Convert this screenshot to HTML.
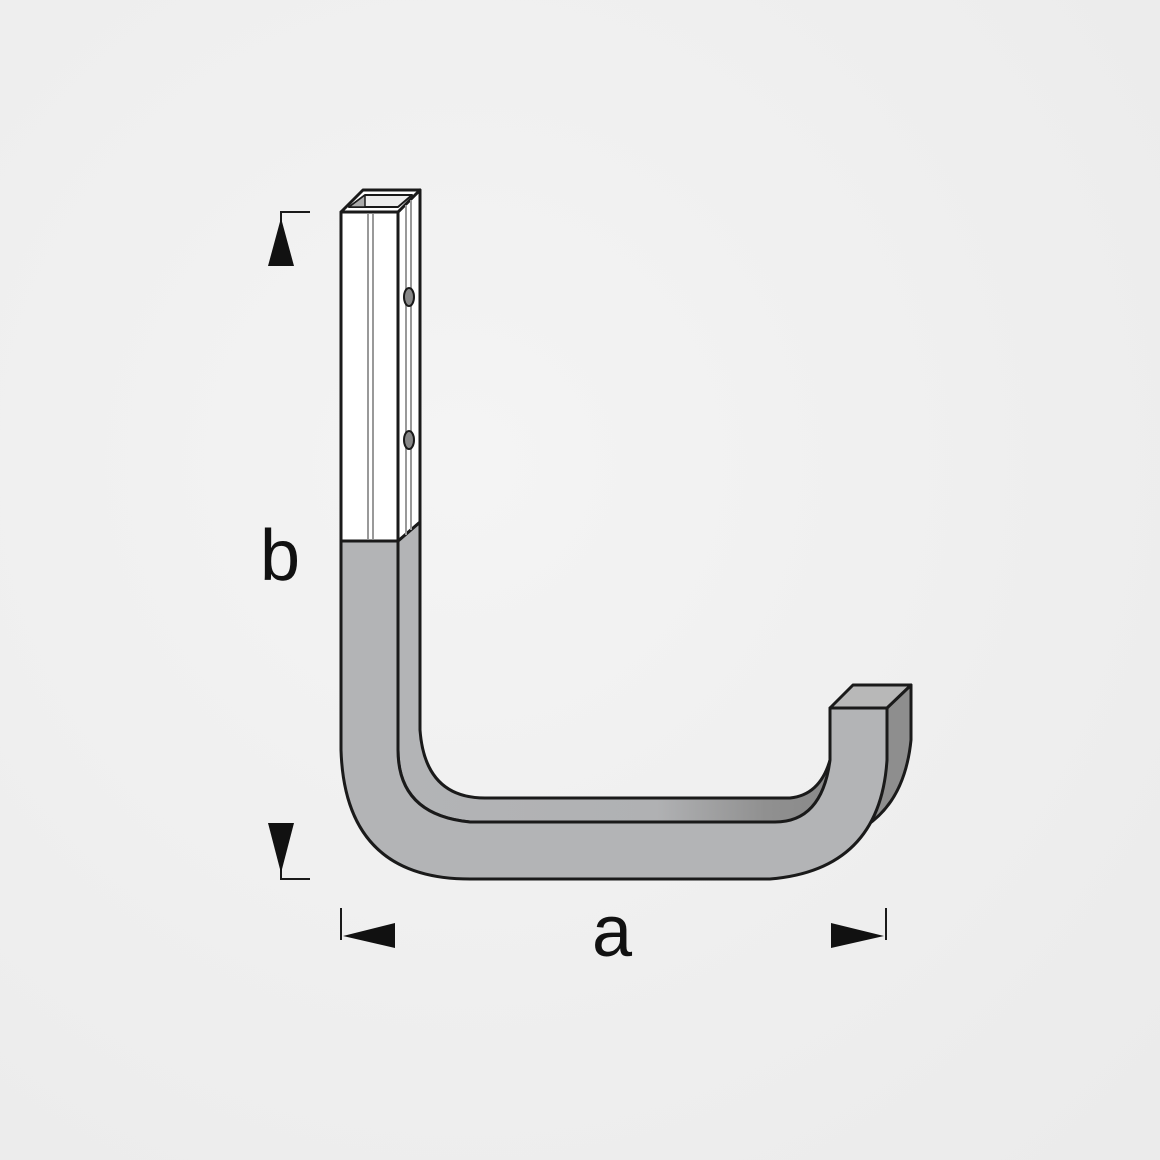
<!DOCTYPE html>
<html><head><style>body{margin:0;background:#efefef}svg{display:block}</style></head><body>
<svg width="1160" height="1160" viewBox="0 0 1160 1160" xmlns="http://www.w3.org/2000/svg">
<defs>
<radialGradient id="bg" cx="0.4" cy="0.4" r="0.8"><stop offset="0" stop-color="#f4f4f4"/><stop offset="1" stop-color="#ebebeb"/></radialGradient>
<linearGradient id="sf" x1="0" y1="0" x2="1" y2="0"><stop offset="0" stop-color="#b3b4b6"/><stop offset="0.6" stop-color="#b0b1b3"/><stop offset="0.85" stop-color="#909090"/><stop offset="1" stop-color="#8a8a8a"/></linearGradient>
</defs>
<rect width="1160" height="1160" fill="url(#bg)"/>
<g stroke="#1a1a1a" stroke-width="3" stroke-linejoin="round">
<path d="M887,708 L911,685 L911,740 Q905,800 866,826 L850,840 Q870,800 887,760 Z" fill="#8e8e8e"/>
<path d="M420,522 L420,730 Q425,798 485,798 L790,798 Q820,795 830,760 L830,790 Q820,822 780,822 L470,822 Q398,815 398,750 L398,541 Z" fill="url(#sf)"/>
<path d="M341,541 L341,750 Q345,879 470,879 L770,879 Q880,870 887,760 L887,708 L830,708 L830,760 Q822,822 775,822 L470,822 Q398,815 398,750 L398,541 Z" fill="#b3b4b6"/>
<path d="M830,708 L853,685 L911,685 L887,708 Z" fill="#b8b8b8"/>
<path d="M341,212 L398,212 L398,541 L341,541 Z" fill="#fff"/>
<path d="M398,212 L420,190 L420,522 L398,541 Z" fill="#fff"/>
<path d="M341,212 L363,190 L420,190 L398,212 Z" fill="#fff"/>
<path d="M349,207 L365,195 L412,195 L398,207 Z" fill="#eee" stroke-width="2"/>
<path d="M349,207 L365,195 L365,207 Z" fill="#aaa" stroke-width="1.5"/>
</g>
<g stroke="#999" stroke-width="2"><line x1="368" y1="214" x2="368" y2="539"/><line x1="373" y1="214" x2="373" y2="539"/><line x1="406" y1="205" x2="406" y2="535"/><line x1="411" y1="200" x2="411" y2="530"/></g>
<g fill="#888" stroke="#1a1a1a" stroke-width="2"><ellipse cx="409" cy="297" rx="5" ry="9"/><ellipse cx="409" cy="440" rx="5" ry="9"/></g>
<g stroke="#1a1a1a" stroke-width="2" fill="none">
<path d="M310,212 L281,212 L281,266"/><path d="M310,879 L281,879 L281,823"/>
<path d="M341,908 L341,940"/><path d="M886,908 L886,940"/>
</g>
<g fill="#111">
<polygon points="281,218 268,266 294,266"/><polygon points="281,873 268,823 294,823"/>
<polygon points="343,936 395,923 395,948"/><polygon points="884,936 831,923 831,948"/>
</g>
<text x="280" y="580" font-family="Liberation Sans, sans-serif" font-size="72" text-anchor="middle" fill="#111">b</text>
<text x="612" y="956" font-family="Liberation Sans, sans-serif" font-size="72" text-anchor="middle" fill="#111">a</text>
</svg>
</body></html>
